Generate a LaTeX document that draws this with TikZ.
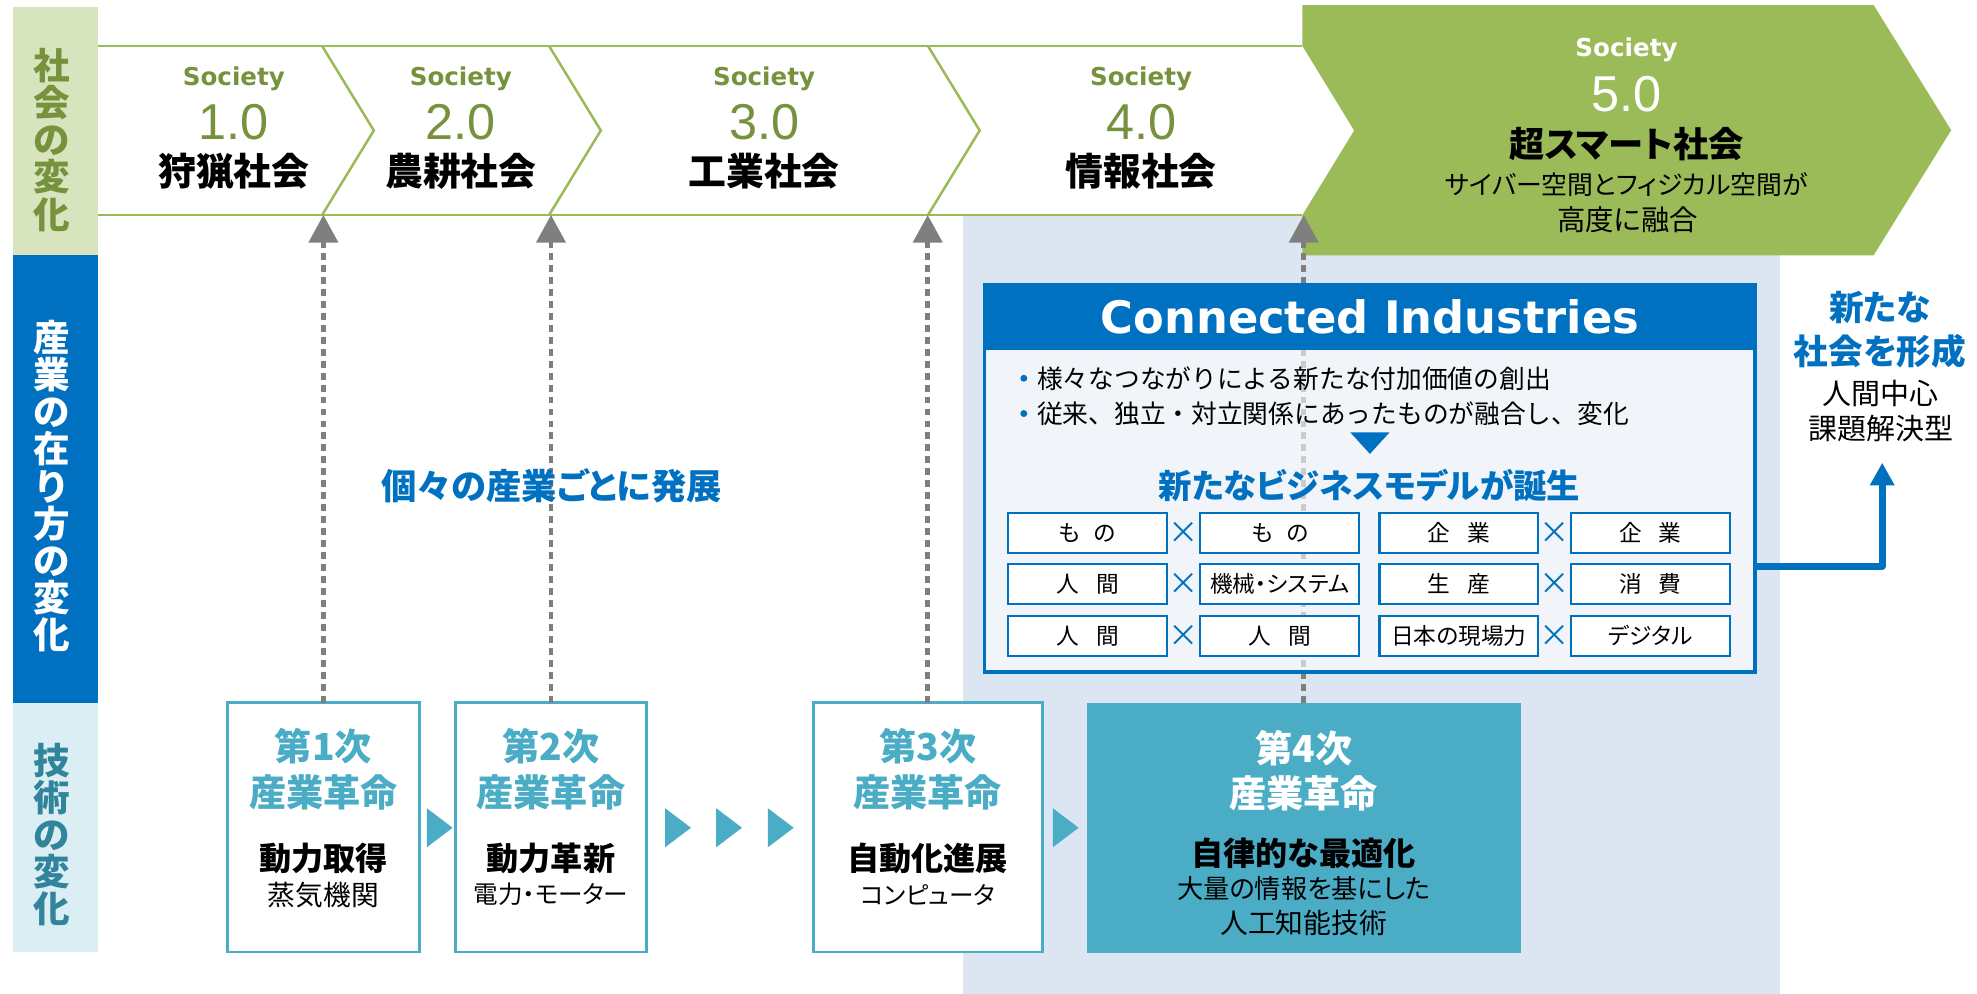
\documentclass[tikz,border=0pt]{standalone}
\usepackage{fontspec}
\setmainfont{Noto Sans CJK JP}[RawFeature={+palt}]
\newfontfamily\jpfull{Noto Sans CJK JP}
\newfontfamily\dvs{DejaVu Sans}
\newfontfamily\lib{Liberation Sans}
\usetikzlibrary{arrows.meta}
\definecolor{lgreen}{HTML}{D7E4BD}
\definecolor{dgreen}{HTML}{76923C}
\definecolor{sgreen}{HTML}{9BBB59}
\definecolor{cblue}{HTML}{0070C0}
\definecolor{lcyan}{HTML}{DAEEF3}
\definecolor{dteal}{HTML}{31849B}
\definecolor{mteal}{HTML}{4BACC6}
\definecolor{lbg}{HTML}{DCE6F2}
\definecolor{agray}{HTML}{7F7F7F}
\newcommand\myfs[1]{\fontsize{#1pt}{#1pt}\selectfont}
\tikzset{
  every node/.style={inner sep=0pt, outer sep=0pt},
  colbox/.style={anchor=north west, minimum width=67.5pt},
  coltext/.style={align=center, font=\bfseries\fontsize{29pt}{29.4pt}\selectfont},
  gline/.style={draw=sgreen, line width=2pt},
  soc/.style={anchor=base, font=\dvs\bfseries\myfs{19.5}, text=dgreen},
  num/.style={anchor=base, font=\lib\myfs{40}, text=dgreen},
  era/.style={font=\bfseries\myfs{30}},
  dotarrow/.style={draw=agray, line width=3.6pt, dash pattern=on 5.5pt off 4pt, -{Triangle[width=23pt,length=22pt]}},
  tbox/.style={anchor=north west, draw=mteal, line width=2.3pt, fill=white, minimum height=197.5pt},
  ttl/.style={font=\bfseries\myfs{29.5}, text=mteal},
  sub/.style={font=\bfseries\myfs{25.5}},
  desc/.style={font=\myfs{22}},
  kdesc/.style={font=\myfs{19.5}},
  tri/.style={fill=mteal},
  gbox/.style={draw=cblue, line width=1.8pt, fill=white, minimum width=126pt, minimum height=31.5pt, font=\myfs{18}},
  cross/.style={font=\myfs{24}, text=cblue},
  bul/.style={circle, fill=cblue, minimum size=5.5pt},
  btxt/.style={anchor=west, font=\jpfull\myfs{20.4}},
  rb/.style={font=\bfseries\myfs{27.5}, text=cblue},
  rn/.style={font=\myfs{23}},
}
\begin{document}
\begin{tikzpicture}[x=1pt,y=-1pt]
\useasboundingbox (0,0) rectangle (1568,788);
% light blue background
\node[anchor=north west, fill=lbg, minimum width=648pt, minimum height=617pt] (lbgbox) at (764,171) {};
% left columns
\node[colbox, fill=lgreen, minimum height=196.5pt] (colA) at (10,5.5) {};
\node[colbox, fill=cblue, minimum height=355.5pt] (colB) at (10,202) {};
\node[colbox, fill=lcyan, minimum height=197.5pt] (colC) at (10,557.5) {};
\node[coltext, text=dgreen] (colAt) at (41,111) {社\\会\\の\\変\\化};
\node[coltext, text=white] (colBt) at (41,385.5) {産\\業\\の\\在\\り\\方\\の\\変\\化};
\node[coltext, text=dteal] (colCt) at (41,662) {技\\術\\の\\変\\化};
% band
\draw[gline] (77.5,36.5) -- (1033,36.5);
\draw[gline] (77.5,170.5) -- (1033,170.5);
\draw[gline] (255.5,36.5) -- (296.5,103.5) -- (255.5,170.5);
\draw[gline] (435.5,36.5) -- (476.5,103.5) -- (435.5,170.5);
\draw[gline] (736,36.5) -- (777,103.5) -- (736,170.5);
\fill[sgreen] (1033,4) -- (1486,4) -- (1547.5,103.25) -- (1486,202.5) -- (1033,202.5) -- (1033,170.5) -- (1074,103.5) -- (1033,36.5) -- cycle;
% society labels
\node[soc] (s1) at (185.5,68) {Society};
\node[num] (n1) at (185.5,111) {1.0};
\node[era] (e1) at (185.5,136) {狩猟社会};
\node[soc] (s2) at (365.5,68) {Society};
\node[num] (n2) at (365.5,111) {2.0};
\node[era] (e2) at (365.5,136) {農耕社会};
\node[soc] (s3) at (606,68) {Society};
\node[num] (n3) at (606,111) {3.0};
\node[era] (e3) at (606,136) {工業社会};
\node[soc] (s4) at (905,68) {Society};
\node[num] (n4) at (905,111) {4.0};
\node[era] (e4) at (905,136) {情報社会};
\node[soc, text=white] (s5) at (1290,45) {Society};
\node[num, text=white] (n5) at (1290,88.6) {5.0};
\node[font=\bfseries\myfs{28}] (e5) at (1290,114) {超スマート社会};
\node[font=\myfs{20.5}] (e5a) at (1290,146.5) {サイバー空間とフィジカル空間が};
\node[font=\myfs{22.5}] (e5b) at (1291,174) {高度に融合};
% bottom boxes
\node[tbox, minimum width=152pt] (b1) at (180.5,557.5) {};
\node[tbox, minimum width=152pt] (b2) at (361,557.5) {};
\node[tbox, minimum width=181.6pt] (b3) at (645,557.5) {};
\node[anchor=north west, fill=mteal, minimum width=344pt, minimum height=198pt] (b4) at (862,557.5) {};
% gray dotted arrows
\coordinate (t1) at (256.5,170.5);
\coordinate (t2) at (437,170.5);
\coordinate (t3) at (735.8,170.5);
\coordinate (t4) at (1034,170.5);
\draw[dotarrow] (b1.north) -- (t1);
\draw[dotarrow] (b2.north) -- (t2);
\draw[dotarrow] (b3.north) -- (t3);
\draw[dotarrow] (b4.north) -- (t4);
% triangles
\fill[tri] (338.5,641) -- (359,656.5) -- (338.5,672) -- cycle;
\fill[tri] (527.5,641) -- (548,656.5) -- (527.5,672) -- cycle;
\fill[tri] (568,641) -- (588.5,656.5) -- (568,672) -- cycle;
\fill[tri] (609,641) -- (629.5,656.5) -- (609,672) -- cycle;
\fill[tri] (835,641) -- (855.5,656.5) -- (835,672) -- cycle;
% box texts
\node[ttl] (b1a) at (256.5,592) {第1次};
\node[ttl] (b1b) at (256.5,628.5) {産業革命};
\node[sub] (b1c) at (256.5,681) {動力取得};
\node[desc] (b1d) at (256.5,709.5) {蒸気機関};
\node[ttl] (b2a) at (437,592) {第2次};
\node[ttl] (b2b) at (437,628.5) {産業革命};
\node[sub] (b2c) at (437,681) {動力革新};
\node[kdesc] (b2d) at (437,709.5) {電力・モーター};
\node[ttl] (b3a) at (735.8,592) {第3次};
\node[ttl] (b3b) at (735.8,628.5) {産業革命};
\node[sub] (b3c) at (735.8,681) {自動化進展};
\node[kdesc] (b3d) at (735.8,709.5) {コンピュータ};
\node[ttl, text=white] (b4a) at (1034,593) {第4次};
\node[ttl, text=white] (b4b) at (1034,629) {産業革命};
\node[sub] (b4c) at (1034,677) {自律的な最適化};
\node[font=\myfs{20.8}] (b4d) at (1034,705) {大量の情報を基にした};
\node[desc] (b4e) at (1034,732) {人工知能技術};
% middle text
\node[font=\bfseries\myfs{28}, text=cblue] (ind) at (437.5,385) {個々の産業ごとに発展};
% Connected Industries box
\node[anchor=north west, draw=cblue, line width=2.6pt, fill=white, fill opacity=0.6, minimum width=611pt, minimum height=307.5pt] (ci) at (781,225.5) {};
\node[anchor=north west, fill=cblue, minimum width=611pt, minimum height=52pt, text=white, font=\dvs\bfseries\myfs{35.5}] (cih) at (781,225.5) {Connected Industries};
\node[bul] (bu1) at (812,300) {};
\node[btxt] (l1) at (822.6,300) {様々なつながりによる新たな付加価値の創出};
\node[bul] (bu2) at (812,328) {};
\node[btxt] (l2) at (822.6,328) {従来、独立・対立関係にあったものが融合し、変化};
\fill[cblue] (1071,343) -- (1102,343) -- (1086.5,360) -- cycle;
\node[font=\bfseries\myfs{26.5}, text=cblue] (nbm) at (1086,385) {新たなビジネスモデルが誕生};
% grid
\node[gbox] (g11) at (862.5,422.75) {も\hspace{0.6em}の};
\node[gbox] (g12) at (1015,422.75) {も\hspace{0.6em}の};
\node[gbox] (g13) at (1157,422.75) {企\hspace{0.75em}業};
\node[gbox] (g14) at (1309,422.75) {企\hspace{0.75em}業};
\node[gbox] (g21) at (862.5,463) {人\hspace{0.75em}間};
\node[gbox] (g22) at (1015,463) {機械・システム};
\node[gbox] (g23) at (1157,463) {生\hspace{0.75em}産};
\node[gbox] (g24) at (1309,463) {消\hspace{0.75em}費};
\node[gbox] (g31) at (862.5,504.25) {人\hspace{0.75em}間};
\node[gbox] (g32) at (1015,504.25) {人\hspace{0.75em}間};
\node[gbox] (g33) at (1157,504.25) {日本の現場力};
\node[gbox] (g34) at (1309,504.25) {デジタル};
\node[cross] (x1) at (939,422.75) {×};
\node[cross] (x2) at (1233,422.75) {×};
\node[cross] (x3) at (939,463) {×};
\node[cross] (x4) at (1233,463) {×};
\node[cross] (x5) at (939,504.25) {×};
\node[cross] (x6) at (1233,504.25) {×};
% right side
\node[rb] (r1) at (1491,244) {新たな};
\node[rb] (r2) at (1491,279) {社会を形成};
\node[rn] (r3) at (1491.5,312) {人間中心};
\node[rn] (r4) at (1491.5,340) {課題解決型};
\coordinate (bend) at (1492.8,449);
\coordinate (atip) at (1492.8,367);
\draw[cblue, line width=5.5pt, line join=round, -{Triangle[width=18.5pt,length=18pt]}] (ci.east |- bend) -- (bend) -- (atip);
\end{tikzpicture}
\end{document}
